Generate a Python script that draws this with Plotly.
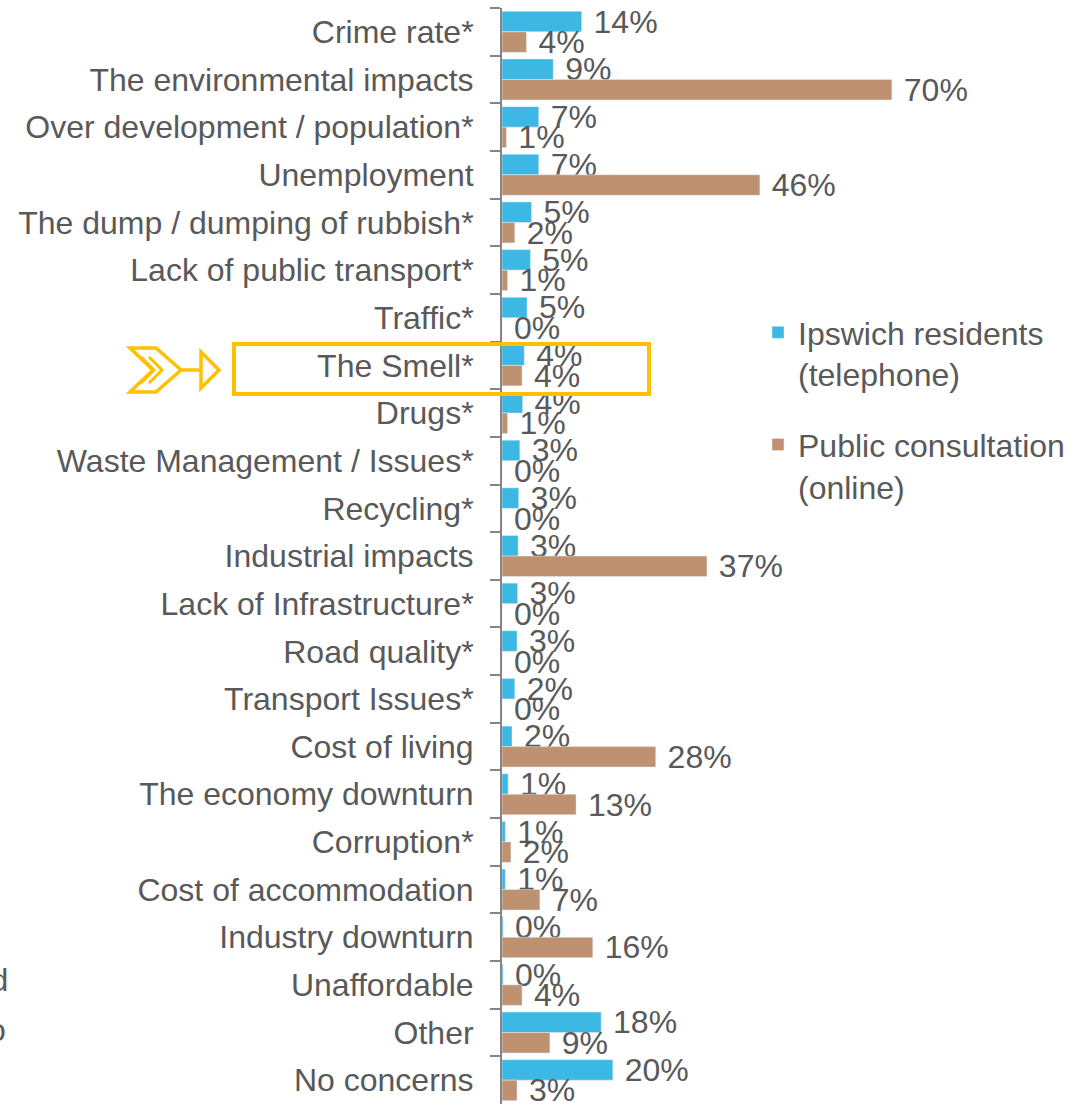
import plotly.graph_objects as go

categories = [
    "Crime rate*", "The environmental impacts", "Over development / population*",
    "Unemployment", "The dump / dumping of rubbish*", "Lack of public transport*",
    "Traffic*", "The Smell*", "Drugs*", "Waste Management / Issues*", "Recycling*",
    "Industrial impacts", "Lack of Infrastructure*", "Road quality*",
    "Transport Issues*", "Cost of living", "The economy downturn", "Corruption*",
    "Cost of accommodation", "Industry downturn", "Unaffordable", "Other", "No concerns",
]
telephone = [14.3, 9.2, 6.6, 6.6, 5.3, 5.1, 4.5, 4.0, 3.7, 3.2, 3.0, 2.9, 2.8, 2.7,
             2.3, 1.8, 1.1, 0.6, 0.6, 0.2, 0.2, 17.8, 19.9]
online = [4.4, 70.0, 0.8, 46.3, 2.3, 1.0, 0.0, 3.6, 1.0, 0.0, 0.0, 36.8, 0.0, 0.0,
          0.0, 27.6, 13.3, 1.6, 6.8, 16.3, 3.6, 8.6, 2.7]
series_names = ["Ipswich residents<br>(telephone)", "Public consultation<br>(online)"]

W, H = 1075, 1104
ML, MR, MT, MB = 502, 16, 8, 0
PW, PH = W - ML - MR, H - MT - MB
GREY = "#595959"
YELLOW = "#FFC000"
FONT = "Liberation Sans, Arial, sans-serif"
FS = 32


def px(x):
    return (x - ML) / PW


def py(y):
    return 1 - (y - MT) / PH


def path(points, close=True):
    s = "M" + " L".join(f"{px(x):.5f},{py(y):.5f}" for x, y in points)
    return s + (" Z" if close else "")


fig = go.Figure()
for name, vals, col in [(series_names[0], telephone, "#3DB7E4"),
                        (series_names[1], online, "#BE9270")]:
    fig.add_trace(go.Bar(
        y=categories, x=vals, name=name, orientation="h", marker_color=col,
        legendgroup=name, texttemplate="\u00a0%{x:.0f}%", textposition="outside",
        constraintext="none", cliponaxis=False,
        textfont=dict(size=FS, color=GREY, family=FONT),
    ))

shapes = [
    # highlight box round "The Smell*"
    dict(type="rect", xref="paper", yref="paper", x0=px(234), x1=px(649), y0=py(394), y1=py(344),
         line=dict(color=YELLOW, width=4)),
    # arrow icon
    dict(type="path", xref="paper", yref="paper",
         path=path([(130, 348), (156, 348), (181, 370), (156, 392), (130, 392), (153, 370)]),
         line=dict(color=YELLOW, width=3.5)),
    dict(type="path", xref="paper", yref="paper",
         path=path([(141, 357), (154, 370), (141, 383)], close=False),
         line=dict(color=YELLOW, width=3)),
    dict(type="path", xref="paper", yref="paper",
         path=path([(149, 357), (162, 370), (149, 383)], close=False),
         line=dict(color=YELLOW, width=3)),
    dict(type="line", xref="paper", yref="paper", x0=px(181), x1=px(200), y0=py(370), y1=py(370),
         line=dict(color=YELLOW, width=3.5)),
    dict(type="path", xref="paper", yref="paper",
         path=path([(201, 352), (219, 370), (201, 388)]),
         line=dict(color=YELLOW, width=3.5)),
]

fig.update_layout(
    width=W, height=H, barmode="group", bargap=0.14, bargroupgap=0,
    margin=dict(l=ML, r=MR, t=MT, b=MB),
    plot_bgcolor="white", paper_bgcolor="white",
    font=dict(family=FONT, size=FS, color=GREY),
    shapes=shapes,
    legend=dict(x=px(758), y=py(305), xanchor="left", yanchor="top", valign="top",
                tracegroupgap=26, font=dict(size=FS, color=GREY), bgcolor="rgba(0,0,0,0)"),
    annotations=[
        dict(text="and", xref="paper", yref="paper", x=px(10), y=py(980), xanchor="right",
             yanchor="middle", showarrow=False, font=dict(size=FS, color=GREY)),
        dict(text="to", xref="paper", yref="paper", x=px(8), y=py(1030), xanchor="right",
             yanchor="middle", showarrow=False, font=dict(size=FS, color=GREY)),
    ],
)
fig.update_xaxes(range=[0, 100], visible=False, showgrid=False, zeroline=False)
fig.update_yaxes(autorange="reversed", showline=True, linecolor="#868686", linewidth=2,
                 ticks="outside", tickson="boundaries", ticklen=10, tickcolor="#868686",
                 tickwidth=2, ticklabelstandoff=20, showgrid=False,
                 tickfont=dict(size=FS, color=GREY, family=FONT))

# page without the default body margin so the chart sits at the window's corner
fig.write_html("out.html", config={"displayModeBar": False},
               post_script="document.body.style.margin='0';")
